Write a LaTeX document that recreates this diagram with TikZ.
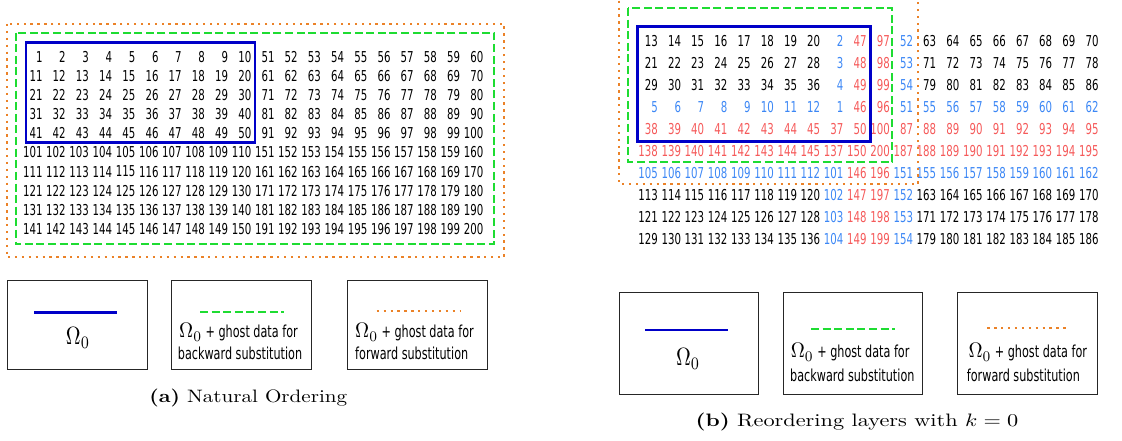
\documentclass[tikz,border=0pt]{standalone}
\usepackage{fontspec}
\newfontfamily\numfont[FakeStretch=0.68]{DejaVu Sans}
\definecolor{omegablue}{RGB}{0,0,200}
\definecolor{ghostgreen}{RGB}{30,220,50}
\definecolor{ghostorange}{RGB}{235,130,40}
\definecolor{numb}{RGB}{60,135,245}
\definecolor{numr}{RGB}{245,90,90}
\definecolor{numk}{RGB}{0,0,0}
\newcommand{\omegabig}{\scalebox{2.05}[2.5]{\fontsize{10}{12}\selectfont$\Omega_0$}}
\newcommand{\omegamid}{\scalebox{1.95}[2.1]{\fontsize{10}{12}\selectfont$\Omega_0$}}
\tikzset{
  num/.style={anchor=east, inner sep=0pt, font=\numfont\fontsize{15}{18}\selectfont},
  omegabox/.style={draw=omegablue, line width=2.8pt},
  bwbox/.style={draw=ghostgreen, line width=2pt, dash pattern=on 8pt off 3.6pt},
  fwbox/.style={draw=ghostorange, line width=2.3pt, dash pattern=on 2.3pt off 4.6pt},
  legbox/.style={draw=black!85, line width=0.9pt},
  legtext/.style={inner sep=0pt, font=\numfont\fontsize{16.5}{19}\selectfont},
  omega/.style={inner sep=0pt},
  captext/.style={inner sep=0pt},
}
\begin{document}
\begin{tikzpicture}[x=1pt,y=-1pt]
\useasboundingbox (0,0) rectangle (1122,441);
% ---------------- left grid (natural ordering)
\foreach \r in {1,...,10}{
  \foreach \c in {1,...,20}{
    \pgfmathtruncatemacro{\blk}{(\r>5)*100+(\c>10)*50}
    \pgfmathtruncatemacro{\n}{\blk+10*(\r-1-5*(\r>5))+\c-10*(\c>10)}
    \node[num] (L-\r-\c) at ({42.7+23.2*(\c-1)},{56.7+19.15*(\r-1)}) {\n};
  }
}
\draw[omegabox] (26,42.7) rectangle (255,142.7);
\draw[bwbox] (15.7,32.7) rectangle (494,244);
\draw[fwbox] (6.7,24) rectangle (504,257.3);
% ---------------- right grid (reordered)
\foreach \nums/\A/\B [count=\r] in {
 {13,14,15,16,17,18,19,20,2,47,97,52,63,64,65,66,67,68,69,70}/numk/numb,
 {21,22,23,24,25,26,27,28,3,48,98,53,71,72,73,74,75,76,77,78}/numk/numb,
 {29,30,31,32,33,34,35,36,4,49,99,54,79,80,81,82,83,84,85,86}/numk/numb,
 {5,6,7,8,9,10,11,12,1,46,96,51,55,56,57,58,59,60,61,62}/numb/numb,
 {38,39,40,41,42,43,44,45,37,50,100,87,88,89,90,91,92,93,94,95}/numr/numr,
 {138,139,140,141,142,143,144,145,137,150,200,187,188,189,190,191,192,193,194,195}/numr/numr,
 {105,106,107,108,109,110,111,112,101,146,196,151,155,156,157,158,159,160,161,162}/numb/numb,
 {113,114,115,116,117,118,119,120,102,147,197,152,163,164,165,166,167,168,169,170}/numk/numb,
 {121,122,123,124,125,126,127,128,103,148,198,153,171,172,173,174,175,176,177,178}/numk/numb,
 {129,130,131,132,133,134,135,136,104,149,199,154,179,180,181,182,183,184,185,186}/numk/numb}{
  \foreach \n [count=\c] in \nums {
    \ifnum\c<9 \def\col{\A}\else
      \ifnum\c=9 \def\col{\B}\else
        \ifnum\c<12 \def\col{numr}\else
          \ifnum\c=12 \def\col{\B}\else \def\col{\A}\fi
        \fi
      \fi
    \fi
    \node[num, text=\col] (R-\r-\c) at ({658+23.2*(\c-1)},{40.7+22.07*(\r-1)}) {\n};
  }
}
\draw[omegabox] (637.3,26.7) rectangle (870.7,141.7);
\draw[bwbox] (628.3,8) rectangle (892.3,161.7);
\draw[fwbox] (619,-20) rectangle (918.3,184);
% ---------------- left legend
\node[legbox, minimum width=140pt, minimum height=89pt, inner sep=0pt] (la) at (77.3,324.5) {};
\node[legbox, minimum width=140pt, minimum height=89pt, inner sep=0pt] (lb) at (241.7,324.5) {};
\node[legbox, minimum width=140pt, minimum height=89pt, inner sep=0pt] (lc) at (417.3,324.5) {};
\coordinate (la1) at (34,312.3); \coordinate (la2) at (116.7,312.3);
\draw[draw=omegablue, line width=2.5pt] (la1) -- (la2);
\coordinate (lb1) at (200,311.7); \coordinate (lb2) at (284,311.7);
\draw[bwbox] (lb1) -- (lb2);
\coordinate (lc1) at (376.7,310.7); \coordinate (lc2) at (460,310.7);
\draw[fwbox] (lc1) -- (lc2);
\node[omega] (lao) at (78,338) {\omegabig};
\node[legtext, anchor=west] (lbt1) at (179,332.5) {\omegamid{} + ghost data for};
\node[legtext, anchor=west] (lbt2) at (177.7,353.3) {backward substitution};
\node[legtext, anchor=west] (lct1) at (355,332.5) {\omegamid{} + ghost data for};
\node[legtext, anchor=west] (lct2) at (355,353.3) {forward substitution};
\node[captext] (capa) at (248.3,397.7) {\scalebox{2.11}[1.8]{\textbf{(a)} Natural Ordering}};
% ---------------- right legend
\node[legbox, minimum width=139.3pt, minimum height=101.7pt, inner sep=0pt] (ra) at (688.7,343.2) {};
\node[legbox, minimum width=139pt, minimum height=101.7pt, inner sep=0pt] (rb) at (852.8,343.2) {};
\node[legbox, minimum width=139.6pt, minimum height=101.7pt, inner sep=0pt] (rc) at (1027.5,343.2) {};
\coordinate (ra1) at (645,330); \coordinate (ra2) at (728.3,330);
\draw[draw=omegablue, line width=2.5pt] (ra1) -- (ra2);
\coordinate (rb1) at (811,329.3); \coordinate (rb2) at (895,329.3);
\draw[bwbox] (rb1) -- (rb2);
\coordinate (rc1) at (987.3,328.3); \coordinate (rc2) at (1068.3,328.3);
\draw[fwbox] (rc1) -- (rc2);
\node[omega] (rao) at (688,359) {\omegabig};
\node[legtext, anchor=west] (rbt1) at (790.7,352.5) {\omegamid{} + ghost data for};
\node[legtext, anchor=west] (rbt2) at (790,375) {backward substitution};
\node[legtext, anchor=west] (rct1) at (968.3,352.5) {\omegamid{} + ghost data for};
\node[legtext, anchor=west] (rct2) at (966.7,375) {forward substitution};
\node[captext] (capb) at (857,421.7) {\scalebox{2.23}[1.8]{\textbf{(b)} Reordering layers with $k=0$}};
\end{tikzpicture}
\end{document}
